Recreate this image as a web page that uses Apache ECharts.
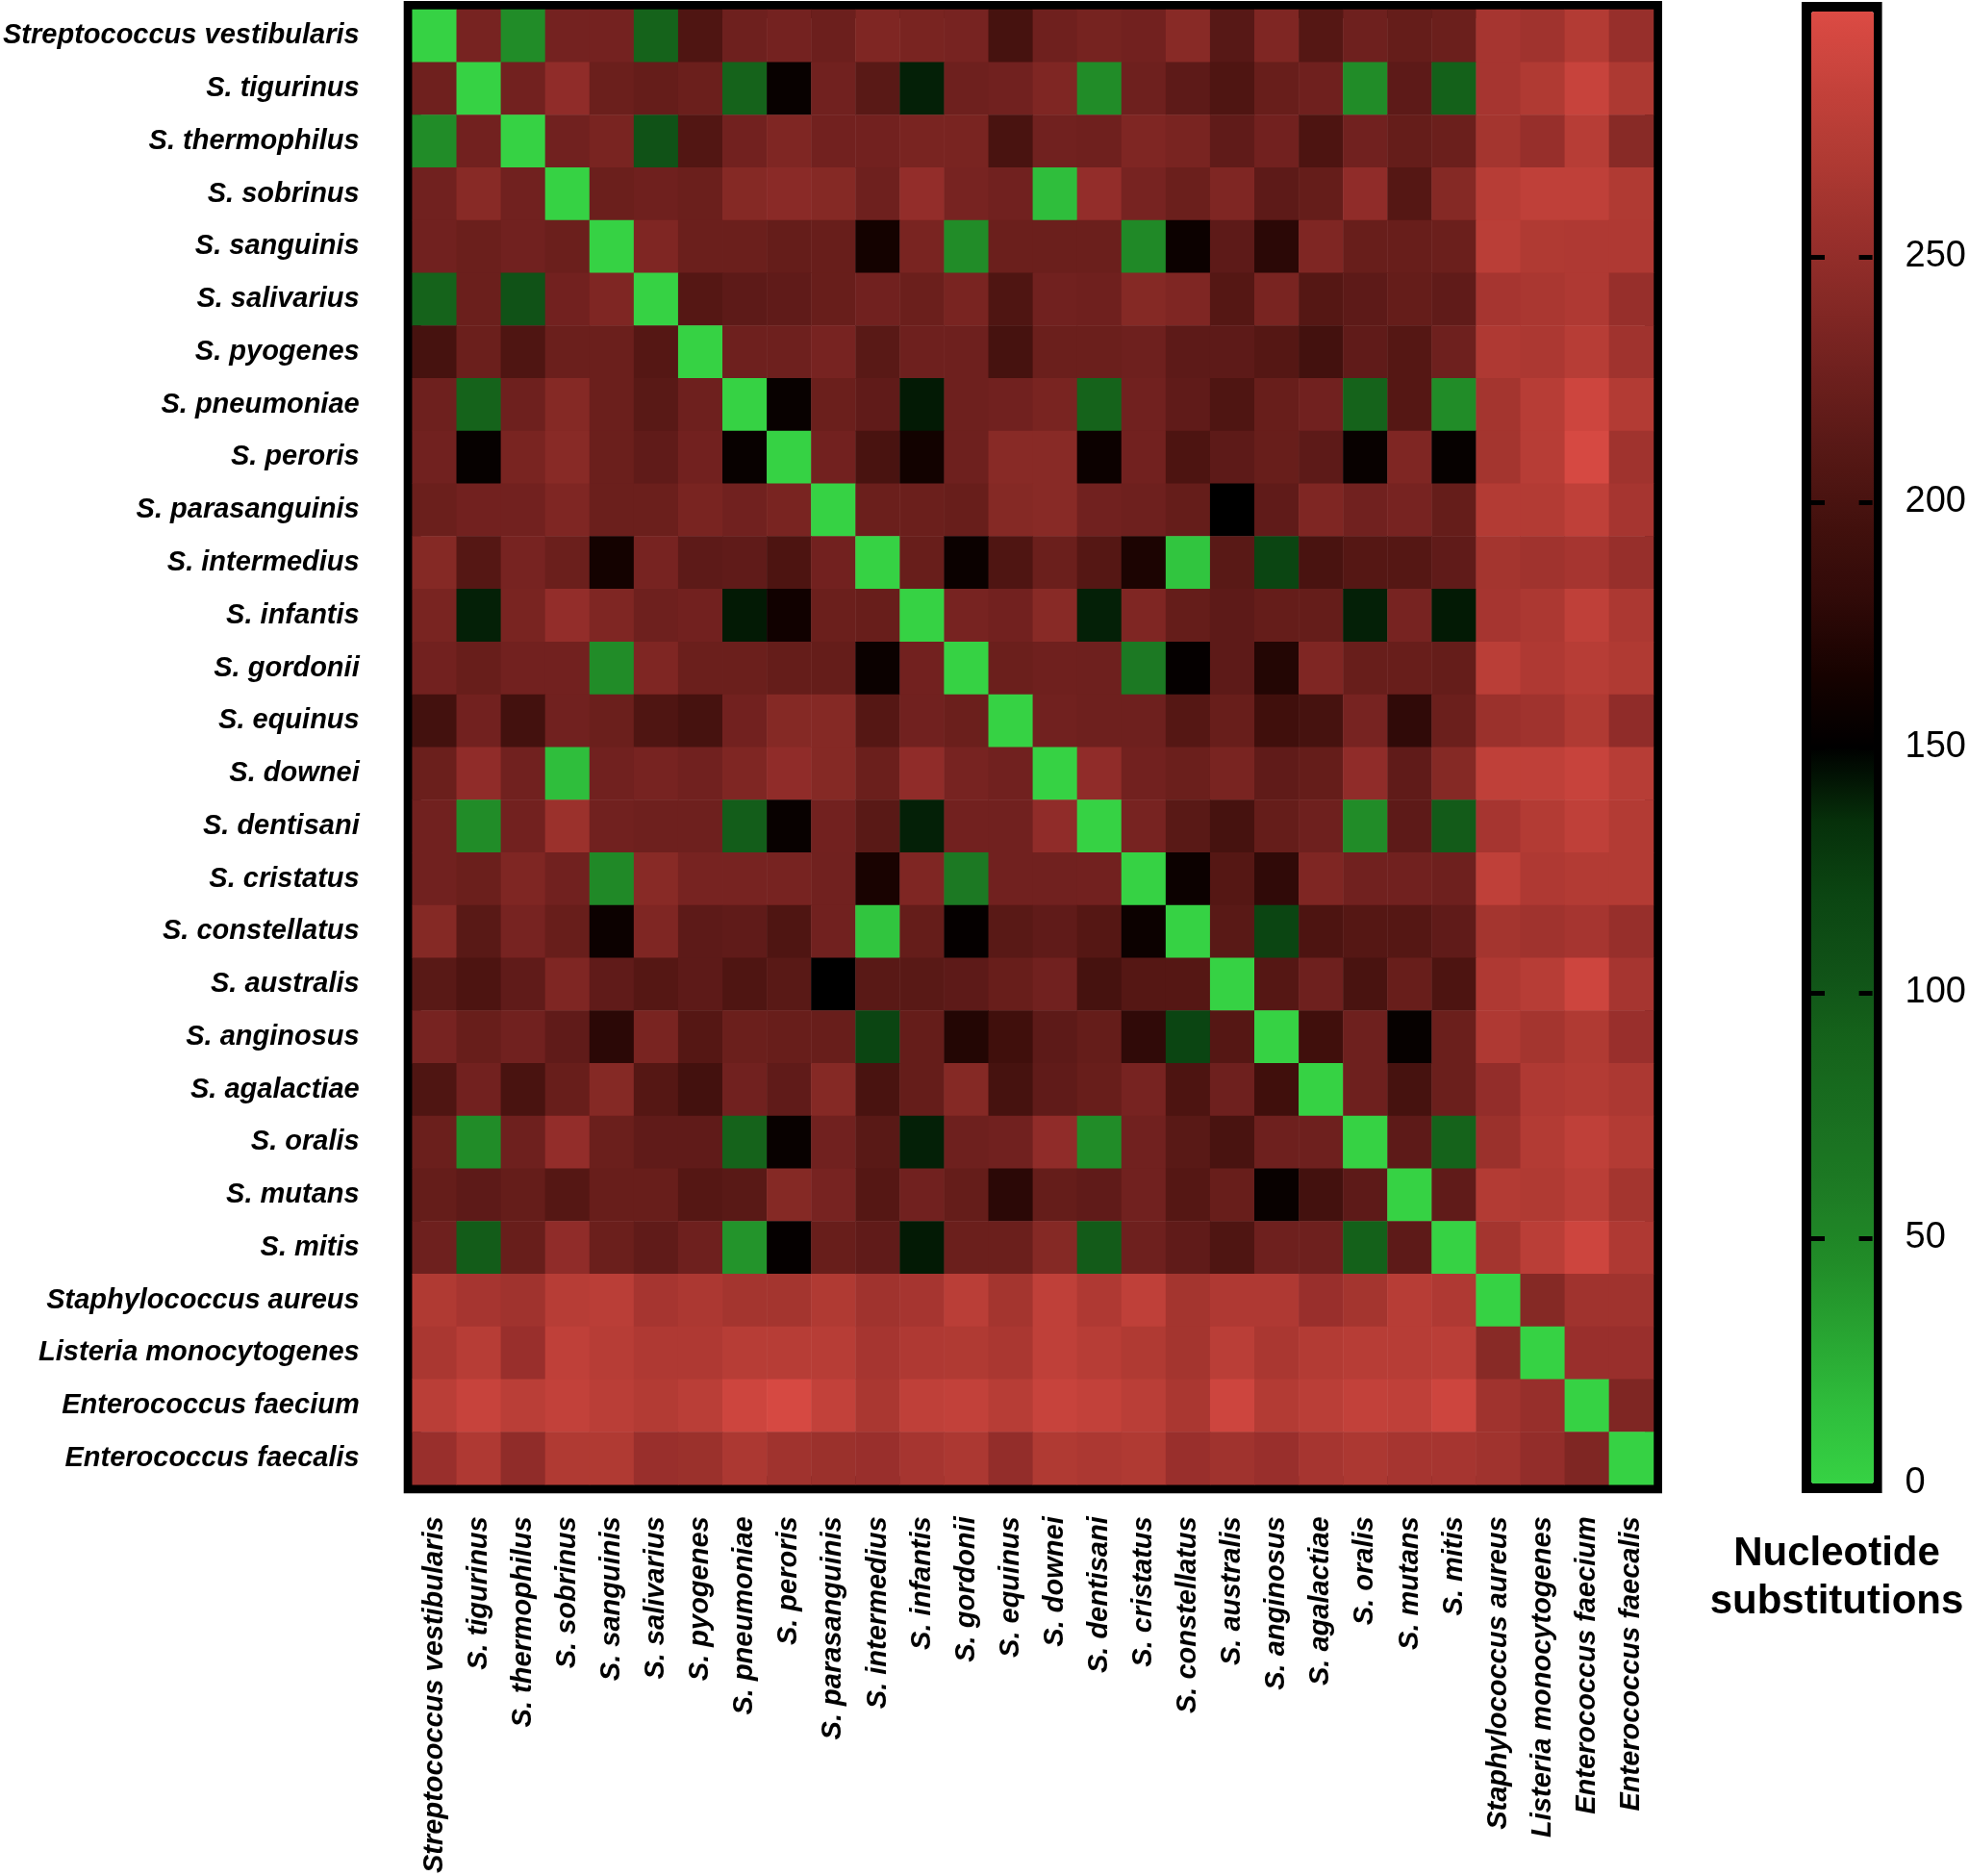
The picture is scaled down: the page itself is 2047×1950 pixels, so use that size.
<!DOCTYPE html>
<html>
<head>
<meta charset="utf-8">
<script src="https://cdn.jsdelivr.net/npm/echarts@6/dist/echarts.min.js"></script>
<style>
  html, body { margin: 0; padding: 0; background: #fff; }
  #chart { width: 2047px; height: 1950px; }
</style>
</head>
<body>
<div id="chart"></div>
<script>
// species, same order on both axes (top->bottom, left->right)
var species = [
  'Streptococcus vestibularis', 'S. tigurinus', 'S. thermophilus', 'S. sobrinus',
  'S. sanguinis', 'S. salivarius', 'S. pyogenes', 'S. pneumoniae', 'S. peroris',
  'S. parasanguinis', 'S. intermedius', 'S. infantis', 'S. gordonii', 'S. equinus',
  'S. downei', 'S. dentisani', 'S. cristatus', 'S. constellatus', 'S. australis',
  'S. anginosus', 'S. agalactiae', 'S. oralis', 'S. mutans', 'S. mitis',
  'Staphylococcus aureus', 'Listeria monocytogenes', 'Enterococcus faecium', 'Enterococcus faecalis'
]

// nucleotide substitutions, one row per species
var substitutions = [
  [0,232,45,230,230,90,205,226,230,225,237,233,232,198,227,231,229,243,211,237,209,226,220,224,263,259,272,253],
  [227,0,229,248,224,220,224,90,155,228,212,140,226,228,237,45,226,215,205,222,227,45,215,92,263,270,286,268],
  [45,229,0,228,233,105,207,229,237,229,229,233,233,200,228,227,237,233,217,229,203,228,220,224,262,253,275,243],
  [228,243,228,0,224,227,224,241,244,241,226,250,232,228,15,250,232,224,237,215,220,248,209,241,275,281,281,270],
  [228,224,228,224,0,237,224,224,220,222,163,233,45,224,224,224,48,158,215,177,237,222,222,224,277,270,269,269],
  [90,224,105,229,237,0,209,215,217,222,228,224,233,205,228,227,241,237,209,233,209,215,220,217,263,266,269,253],
  [198,224,205,224,224,209,0,226,226,232,212,226,226,198,224,224,226,215,215,209,196,217,209,226,269,267,275,259],
  [226,90,226,241,224,212,226,0,155,224,217,142,226,228,233,90,228,217,205,222,228,90,209,45,262,275,290,272],
  [228,154,233,243,224,217,229,155,0,229,200,162,226,243,243,158,229,203,215,222,215,155,237,154,262,275,296,259],
  [224,229,229,237,224,224,233,228,233,0,224,224,222,241,243,228,226,220,150,217,237,228,232,220,272,272,281,263],
  [241,209,232,224,163,232,215,217,203,229,0,222,157,205,224,209,168,10,212,120,200,209,209,217,262,259,263,253],
  [233,140,233,250,237,226,229,142,161,224,222,0,232,229,243,140,237,220,215,220,220,140,232,142,263,267,281,267],
  [229,222,229,229,45,237,224,224,220,220,157,229,0,224,227,226,62,153,215,172,237,222,222,220,277,269,275,270],
  [196,229,196,228,224,205,198,229,241,241,209,228,224,0,228,226,226,209,222,193,198,232,180,224,256,259,270,248],
  [224,248,228,15,228,232,228,237,248,241,224,248,232,228,0,248,229,224,233,217,220,248,217,241,281,281,286,275],
  [228,45,229,256,228,226,226,95,155,229,212,140,229,228,248,0,232,212,198,220,226,45,215,97,263,272,281,272],
  [228,224,237,228,48,243,232,232,232,228,166,237,62,228,228,229,0,158,209,180,237,228,228,226,281,269,272,272],
  [241,212,232,222,158,237,215,217,205,228,10,220,153,212,217,209,158,0,212,120,203,209,209,217,262,259,263,253],
  [212,203,217,237,217,209,215,205,212,150,212,212,215,222,228,198,209,209,0,209,226,200,222,203,269,275,290,263],
  [232,222,228,217,177,233,209,224,222,222,120,220,172,193,215,220,180,120,209,0,193,226,154,224,269,262,270,254],
  [205,229,200,222,241,209,196,228,217,241,200,220,241,198,217,222,232,203,226,193,0,226,198,224,250,269,272,267],
  [224,45,226,250,224,217,217,90,155,228,212,140,226,228,248,45,228,212,200,226,226,0,215,90,256,272,281,272],
  [220,215,220,209,222,222,209,212,241,232,209,228,220,177,220,217,228,209,222,155,196,215,0,217,272,270,277,262],
  [226,96,222,248,224,217,226,40,153,222,217,142,224,224,241,97,226,217,205,226,226,92,215,0,262,277,290,269],
  [270,263,259,275,277,263,267,262,262,270,259,263,277,262,281,269,281,262,269,269,254,262,275,269,0,241,259,259],
  [266,275,254,281,275,269,269,275,275,275,263,269,270,266,281,275,270,262,277,266,272,275,275,277,243,0,254,254],
  [277,286,277,283,277,272,277,290,296,283,266,281,283,275,286,283,277,266,290,272,277,283,281,290,259,253,0,237],
  [254,269,248,270,270,254,256,267,259,256,254,263,267,250,270,267,270,254,259,254,263,267,263,263,259,250,237,0]
]

// colour scale
var scaleMin = 0
var scaleMax = 300
var scaleTicks = [50, 100, 150, 200, 250]
var scaleLabels = [0, 50, 100, 150, 200, 250]
var scaleColors = [
  '#36d244', '#2fbe3c', '#28a532', '#218c28', '#1d7b24', '#196e20', '#15631b',
  '#105217', '#0b4512', '#06300a', '#000000', '#170200', '#300a08', '#42100d',
  '#561815', '#6c1f1d', '#842825', '#9a302c', '#b03a33', '#c5423b', '#dc4b44'
]
var scaleTitle = 'Nucleotide\nsubstitutions'

var FONT = "'Liberation Sans', Arial, sans-serif"

var cells = []
substitutions.forEach(function (row, i) {
  row.forEach(function (v, j) {
    cells.push([j, i, v])
  })
})

var chart = echarts.init(document.getElementById('chart'))

// main grid + colour bar box
var grid0 = {left: 427, top: 10, width: 1292, height: 1535}
var bar = {left: 1883, top: 12, width: 65, height: 1530}

var opt = {
  backgroundColor: '#fff',
  animation: false,
  grid: [
    {left: grid0.left, top: grid0.top, width: grid0.width, height: grid0.height,
      show: true, borderColor: '#000', borderWidth: 18, backgroundColor: 'transparent'},
    {left: bar.left, top: bar.top, width: bar.width, height: bar.height,
      show: true, borderColor: '#000', borderWidth: 20, backgroundColor: 'transparent'}
  ],
  xAxis: [
    {
      type: 'category', gridIndex: 0, data: species,
      axisLine: {show: false}, axisTick: {show: false}, splitLine: {show: false},
      axisLabel: {
        rotate: 90, margin: 33, interval: 0,
        fontFamily: FONT, fontSize: 29, fontWeight: 'bold', fontStyle: 'italic', color: '#000'
      }
    },
    {type: 'value', gridIndex: 1, show: false, min: 0, max: 1}
  ],
  yAxis: [
    {
      type: 'category', gridIndex: 0, data: species, inverse: true,
      axisLine: {show: false}, axisTick: {show: false}, splitLine: {show: false},
      axisLabel: {
        margin: 55, interval: 0,
        fontFamily: FONT, fontSize: 29, fontWeight: 'bold', fontStyle: 'italic', color: '#000'
      }
    },
    {
      type: 'value', gridIndex: 1, position: 'left', min: scaleMin, max: scaleMax, z: 10,
      axisLine: {show: false}, splitLine: {show: false},
      axisTick: {show: true, inside: true, length: 14, customValues: scaleTicks, lineStyle: {color: '#000', width: 5}},
      axisLabel: {show: false}
    },
    {
      type: 'value', gridIndex: 1, position: 'right', min: scaleMin, max: scaleMax, z: 10,
      axisLine: {show: false}, splitLine: {show: false},
      axisTick: {show: true, inside: true, length: 14, customValues: scaleTicks, lineStyle: {color: '#000', width: 5}},
      axisLabel: {
        show: true, margin: 34, customValues: scaleLabels,
        fontFamily: FONT, fontSize: 38, color: '#000'
      }
    }
  ],
  visualMap: {
    type: 'continuous',
    min: scaleMin, max: scaleMax,
    seriesIndex: 0,
    orient: 'vertical',
    left: bar.left, top: bar.top,
    itemWidth: bar.width, itemHeight: bar.height,
    padding: 0,
    calculable: false,
    hoverLink: false,
    inRange: {color: scaleColors}
  },
  graphic: [{
    type: 'text',
    x: bar.left + bar.width / 2 - 6,
    y: 1590,
    style: {
      text: scaleTitle,
      fill: '#000',
      font: 'bold 42px ' + FONT,
      align: 'center',
      lineHeight: 50
    }
  }],
  series: [{
    type: 'heatmap',
    xAxisIndex: 0, yAxisIndex: 0,
    data: cells,
    itemStyle: {borderWidth: 0},
    emphasis: {disabled: true}
  }]
}

chart.setOption(opt)
</script>
</body>
</html>
